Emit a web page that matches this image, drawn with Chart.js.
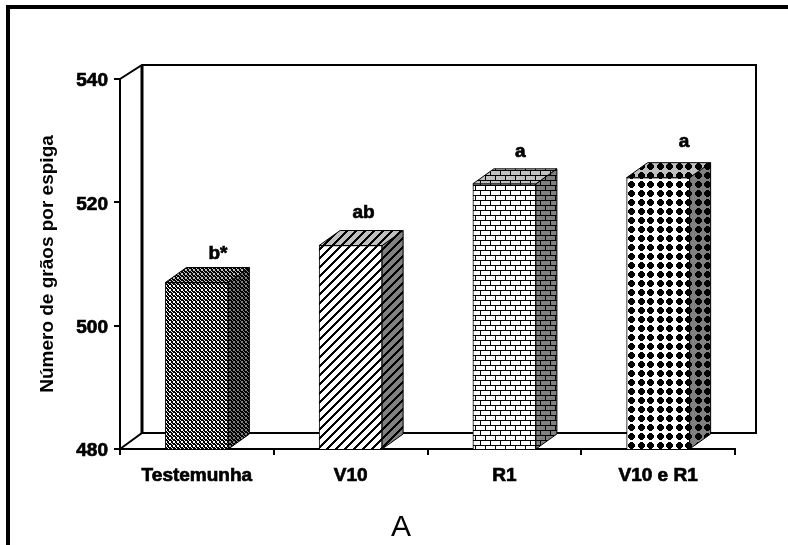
<!DOCTYPE html>
<html>
<head>
<meta charset="utf-8">
<title>Número de grãos por espiga</title>
<script src="https://cdn.jsdelivr.net/npm/chart.js@4"></script>
<style>
  html, body { margin: 0; padding: 0; background: #fff; overflow: hidden; }
  canvas { display: block; }
</style>
</head>
<body>
<canvas id="grafico" width="788" height="545"></canvas>
<script>
const categorias = ["Testemunha", "V10", "R1", "V10 e R1"];
const graos = [507, 513, 523, 524];
const letras = ["b*", "ab", "a", "a"];
const yTicks = [480, 500, 520, 540];
const yTitulo = "Número de grãos por espiga";
const painel = "A";

// deslocamento de cada letra em relacao ao topo da barra
const letraDesloc = [[21, -29], [13, -33], [16, -32], [26, -36]];

const DX = 21, DY = 15; // profundidade do efeito 3D
const FONTE = "'Liberation Sans', Arial, sans-serif";

function tile(w, h, fundo, isBlack) {
  const c = document.createElement("canvas");
  c.width = w;
  c.height = h;
  const g = c.getContext("2d");
  g.fillStyle = fundo;
  g.fillRect(0, 0, w, h);
  g.fillStyle = "#000";
  for (let y = 0; y < h; y++) {
    for (let x = 0; x < w; x++) {
      if (isBlack(x, y)) g.fillRect(x, y, 1, 1);
    }
  }
  return g.createPattern(c, "repeat");
}

const desenhos = [
  // trama fina
  { w: 4, h: 4, f: (x, y) => ["0111", "1001", "1001", "1110"][y][x] === "1" },
  // listras diagonais
  { w: 9, h: 9, f: (x, y) => (x + y) % 9 < 3 },
  // tijolos
  { w: 10, h: 10, f: (x, y) => y % 5 === 0 || (y < 5 ? x === 0 : x === 5) },
  // bolinhas
  {
    w: 19, h: 18, f: (x, y) => {
      const cx = x < 10 ? 4 : 14;
      const cy = y < 9 ? 4 : 13;
      const dx = x - cx, dy = y - cy;
      return dx * dx + dy * dy <= 10;
    },
  },
];

const frente = desenhos.map((d) => tile(d.w, d.h, "#fff", d.f));
const lado = desenhos.map((d) => tile(d.w, d.h, "#808080", d.f));
const topo = desenhos.map((d) => tile(d.w, d.h, "#c0c0c0", d.f));

function face(ctx, pontos, fill) {
  ctx.beginPath();
  pontos.forEach((p, i) => (i ? ctx.lineTo(p[0], p[1]) : ctx.moveTo(p[0], p[1])));
  ctx.closePath();
  ctx.fillStyle = fill;
  ctx.fill();
  ctx.lineWidth = 1;
  ctx.strokeStyle = "#000";
  ctx.stroke();
}

const fundo3d = {
  id: "fundo3d",
  beforeDatasetsDraw(chart) {
    const { ctx, chartArea: a } = chart;
    ctx.save();
    ctx.strokeStyle = "#000";

    // moldura
    ctx.lineWidth = 4;
    ctx.beginPath();
    ctx.moveTo(788, 7);
    ctx.lineTo(8, 7);
    ctx.lineTo(8, 545);
    ctx.stroke();

    // paredes do fundo
    ctx.lineWidth = 2;
    ctx.beginPath();
    ctx.moveTo(a.left, a.top);
    ctx.lineTo(a.left + 22, a.top - 14);
    ctx.lineTo(a.right + 21, a.top - 14);
    ctx.lineTo(a.right + 21, a.bottom - 16);
    ctx.lineTo(a.left + 22, a.bottom - 16);
    ctx.lineTo(a.left, a.bottom);
    ctx.stroke();
    ctx.lineWidth = 3;
    ctx.beginPath();
    ctx.moveTo(a.left + 22, a.top - 14);
    ctx.lineTo(a.left + 22, a.bottom - 16);
    ctx.stroke();
    ctx.restore();
  },
  afterDatasetsDraw(chart) {
    const { ctx, chartArea: a } = chart;
    ctx.save();
    chart.getDatasetMeta(0).data.forEach((bar, i) => {
      const esq = bar.x - bar.width / 2;
      const dir = bar.x + bar.width / 2;
      const base = a.bottom; // a base da barra fica abaixo do eixo, que comeca em 480
      face(ctx, [[dir, bar.y], [dir + DX, bar.y - DY], [dir + DX, base - DY], [dir, base]], lado[i]);
      face(ctx, [[esq, bar.y], [esq + DX, bar.y - DY], [dir + DX, bar.y - DY], [dir, bar.y]], topo[i]);

      ctx.fillStyle = "#000";
      ctx.strokeStyle = "#000";
      ctx.lineWidth = 0.7;
      ctx.font = "bold 19px " + FONTE;
      ctx.textAlign = "center";
      ctx.textBaseline = "middle";
      ctx.fillText(letras[i], bar.x + letraDesloc[i][0], bar.y + letraDesloc[i][1]);
      ctx.strokeText(letras[i], bar.x + letraDesloc[i][0], bar.y + letraDesloc[i][1]);
    });

    ctx.fillStyle = "#000";
    ctx.font = "30px " + FONTE;
    ctx.textAlign = "center";
    ctx.textBaseline = "alphabetic";
    ctx.fillText(painel, 401, 536);
    ctx.restore();
  },
};

new Chart(document.getElementById("grafico"), {
  type: "bar",
  data: {
    labels: categorias,
    datasets: [
      {
        data: graos,
        backgroundColor: frente,
        borderColor: "#000",
        borderWidth: 1,
        barThickness: 63,
      },
    ],
  },
  options: {
    responsive: false,
    animation: false,
    layout: { padding: { top: 79, right: 53, bottom: 0, left: 0 } },
    plugins: { legend: { display: false }, tooltip: { enabled: false } },
    scales: {
      x: {
        afterFit(scale) {
          scale.height = 96;
        },
        border: { color: "#000", width: 2 },
        grid: { drawOnChartArea: false, color: "#000", lineWidth: 2, tickLength: 6 },
        ticks: {
          color: "#000",
          padding: 9,
          maxRotation: 0,
          textStrokeColor: "#000",
          textStrokeWidth: 0.7,
          font: { family: FONTE, size: 19, weight: "bold" },
        },
      },
      y: {
        min: 480,
        max: 540,
        afterFit(scale) {
          scale.width = 120;
        },
        afterBuildTicks(scale) {
          scale.ticks = yTicks.map((v) => ({ value: v }));
        },
        border: { color: "#000", width: 2 },
        grid: { drawOnChartArea: false, color: "#000", lineWidth: 2, tickLength: 6 },
        ticks: {
          color: "#000",
          padding: 6,
          labelOffset: 2,
          textStrokeColor: "#000",
          textStrokeWidth: 0.7,
          font: { family: FONTE, size: 19, weight: "bold" },
        },
        title: {
          display: true,
          text: yTitulo,
          color: "#000",
          padding: { top: 36, bottom: 0 },
          font: { family: FONTE, size: 19, weight: "bold" },
        },
      },
    },
  },
  plugins: [fundo3d],
});
</script>
</body>
</html>
